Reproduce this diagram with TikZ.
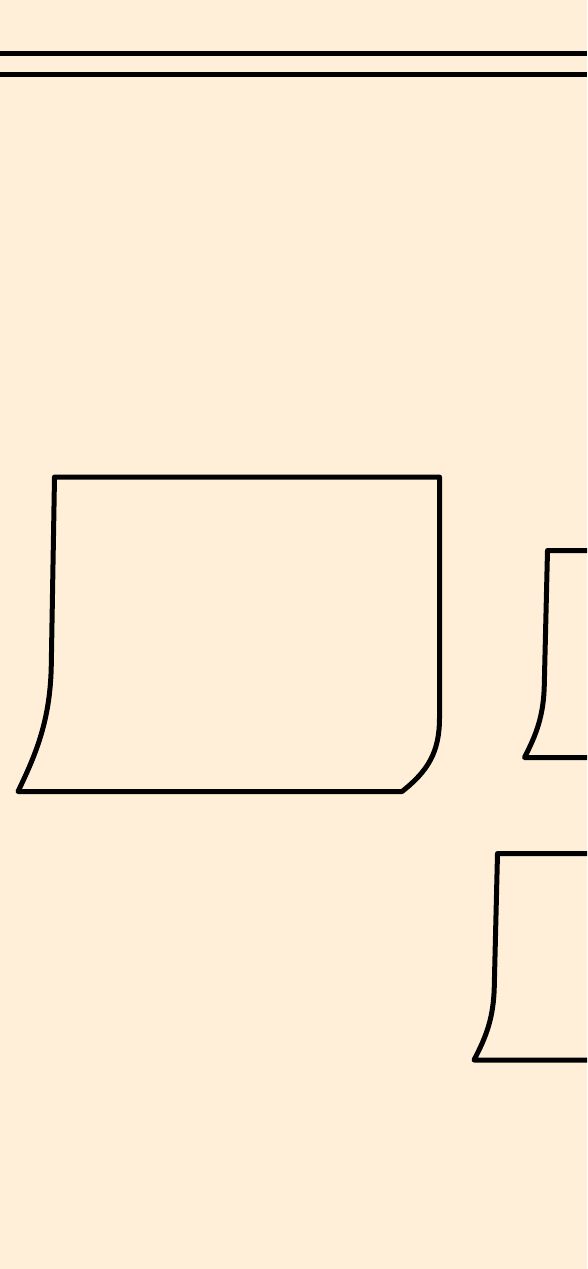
\documentclass[tikz,border=0pt]{standalone}
\definecolor{bgc}{HTML}{FFEFD8}
\tikzset{
  outline/.style={draw=black, line width=5pt, line join=round, fill=bgc},
  rule/.style={draw=black, line width=5pt}
}
\begin{document}
\begin{tikzpicture}[x=1pt,y=-1pt]
\useasboundingbox (0,0) rectangle (587,1269);
\fill[bgc] (0,0) rectangle (587,1269);
\begin{scope}
\clip (0,0) rectangle (587,1269);
% header rules
\coordinate (r1a) at (0,53.5); \coordinate (r1b) at (587,53.5);
\coordinate (r2a) at (0,74.5); \coordinate (r2b) at (587,74.5);
\draw[rule] (r1a) -- (r1b);
\draw[rule] (r2a) -- (r2b);
% large sheet
\draw[outline] (54.5,477) -- (439.5,477) -- (439.5,718)
  .. controls (439.5,752) and (428,771) .. (402,791.5)
  -- (18,791.5)
  .. controls (36,754) and (50.5,720) .. (51.3,664) -- cycle;
% small sheet 1 (cut by the right edge)
\draw[outline] (547.5,550.5) -- (600,550.5) -- (600,757.5) -- (524.5,757.5)
  .. controls (536,735) and (543.8,716) .. (544.3,684) -- cycle;
% small sheet 2 (cut by the right edge)
\draw[outline] (497.5,853.5) -- (600,853.5) -- (600,1060) -- (474,1060)
  .. controls (486,1037) and (493.8,1018) .. (494.3,985) -- cycle;
\end{scope}
\end{tikzpicture}
\end{document}
